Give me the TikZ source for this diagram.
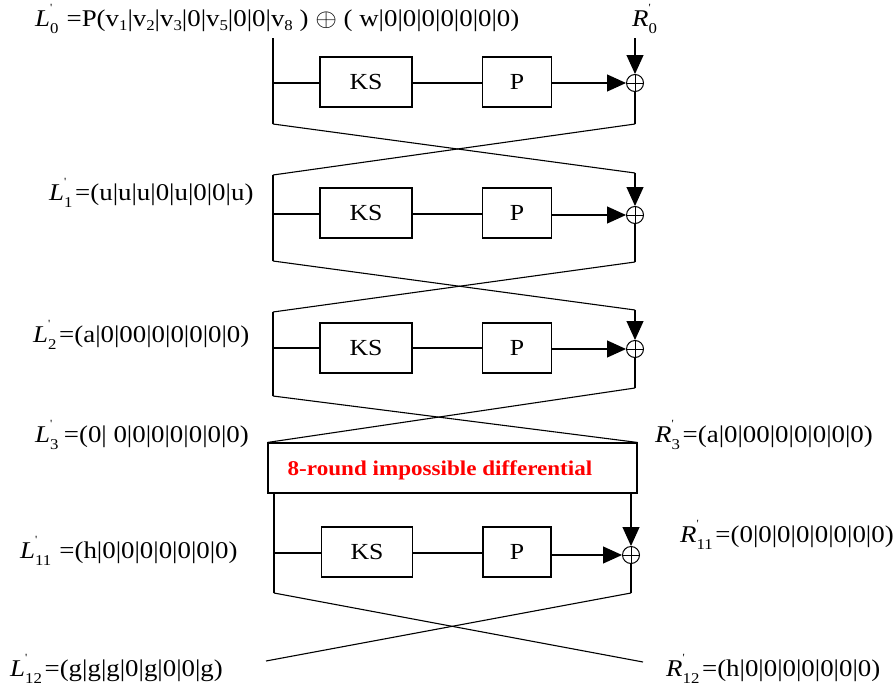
\documentclass[tikz,border=0pt]{standalone}
\usepackage{fontspec}
\setmainfont{Liberation Serif}
\usetikzlibrary{arrows.meta}
\newcommand{\Lb}[3]{\textit{#1}\rlap{\raisebox{0.6em}{\fontsize{11}{11}\selectfont\textquotesingle}}\raisebox{-0.3em}{\fontsize{15}{15}\selectfont #2}\hspace{#3}}
\newcommand{\vs}[1]{v\raisebox{-0.2em}{\fontsize{15}{15}\selectfont #1}}
\newcommand{\sx}[1]{\scalebox{1.12}[1]{#1}}
\begin{document}
\begin{tikzpicture}[x=1pt,y=-1pt,
  line/.style={line width=1.1pt},
  arr/.style={line width=1.1pt,-{Triangle[length=19pt,width=17pt]}},
  blk/.style={draw,line width=1.1pt,minimum width=92pt,minimum height=50pt,inner sep=0pt,font=\fontsize{23}{26}\selectfont},
  pblk/.style={blk,minimum width=69pt},
  xo/.style={draw,circle,line width=1pt,minimum size=17pt,inner sep=0pt,path picture={\draw[line width=1pt] (path picture bounding box.north) -- (path picture bounding box.south) (path picture bounding box.west) -- (path picture bounding box.east);}},
  lab/.style={anchor=base west,inner sep=0pt,font=\fontsize{24}{28}\selectfont}]
\useasboundingbox (0,0) rectangle (894,688);
% round 0
\coordinate (lt0) at (273,38); \coordinate (lb0) at (273,124); \coordinate (lm0) at (273,83);
\coordinate (rt0) at (635,38); \coordinate (rb0) at (635,124);
\node[blk] (ks0) at (366,82) {\sx{KS}};
\node[pblk] (p0) at (517,82) {\sx{P}};
\node[xo] (x0) at (635,83) {};
\draw[line] (lt0) -- (lb0);
\draw[line] (lm0) -- (lm0 -| ks0.west);
\draw[line] (ks0.east |- lm0) -- (p0.west |- lm0);
\draw[arr] (p0.east |- x0) -- (x0.west);
\draw[arr] (rt0) -- (x0.north);
\draw[line] (x0.south) -- (rb0);
% round 1
\coordinate (lt1) at (273,175); \coordinate (lb1) at (273,261); \coordinate (lm1) at (273,214);
\coordinate (rt1) at (635,173); \coordinate (rb1) at (635,262);
\node[blk] (ks1) at (366,213) {\sx{KS}};
\node[pblk] (p1) at (517,213) {\sx{P}};
\node[xo] (x1) at (635,215) {};
\draw[line] (lb0) -- (rt1);
\draw[line] (rb0) -- (lt1);
\draw[line] (lt1) -- (lb1);
\draw[line] (lm1) -- (lm1 -| ks1.west);
\draw[line] (ks1.east |- lm1) -- (p1.west |- lm1);
\draw[arr] (p1.east |- x1) -- (x1.west);
\draw[arr] (rt1) -- (x1.north);
\draw[line] (x1.south) -- (rb1);
% round 2
\coordinate (lt2) at (273,312); \coordinate (lb2) at (273,396); \coordinate (lm2) at (273,348);
\coordinate (rt2) at (635,310); \coordinate (rb2) at (635,388);
\node[blk] (ks2) at (366,348) {\sx{KS}};
\node[pblk] (p2) at (517,348) {\sx{P}};
\node[xo] (x2) at (635,349) {};
\draw[line] (lb1) -- (rt2);
\draw[line] (rb1) -- (lt2);
\draw[line] (lt2) -- (lb2);
\draw[line] (lm2) -- (lm2 -| ks2.west);
\draw[line] (ks2.east |- lm2) -- (p2.west |- lm2);
\draw[arr] (p2.east |- x2) -- (x2.west);
\draw[arr] (rt2) -- (x2.north);
\draw[line] (x2.south) -- (rb2);
% impossible differential box
\node[draw,line width=1.1pt,minimum width=369pt,minimum height=50pt,inner sep=0pt] (imp) at (452.5,468) {};
\node[font=\bfseries\fontsize{21}{24}\selectfont,text=red] (imptxt) at (440,470) {\scalebox{1.1}[1]{8-round impossible differential}};
\draw[line] (lb2) -- (imp.north east);
\draw[line] (rb2) -- (imp.north west);
% round 11
\coordinate (lt3) at (274,493); \coordinate (lb3) at (274,593); \coordinate (lm3) at (274,553);
\coordinate (rt3) at (631,493); \coordinate (rb3) at (631,593);
\node[blk,minimum width=91pt] (ks3) at (367,552) {\sx{KS}};
\node[pblk,minimum width=68pt] (p3) at (517,552) {\sx{P}};
\node[xo] (x3) at (631,555) {};
\draw[line] (lt3) -- (lb3);
\draw[line] (lm3) -- (lm3 -| ks3.west);
\draw[line] (ks3.east |- lm3) -- (p3.west |- lm3);
\draw[arr] (p3.east |- x3) -- (x3.west);
\draw[arr] (rt3) -- (x3.north);
\draw[line] (x3.south) -- (rb3);
\coordinate (e1) at (643,662); \coordinate (e2) at (266,661);
\draw[line] (lb3) -- (e1);
\draw[line] (rb3) -- (e2);
% labels
\node[lab] (tL0) at (35,26) {\sx{\Lb{L}{0}{0.3em}=P(\vs1|\vs2|\vs3|0|\vs5|0|0|\vs8 ) $\oplus$ ( w|0|0|0|0|0|0|0)}};
\node[lab] (tR0) at (632,26) {\sx{\Lb{R}{0}{0pt}}};
\node[lab] (tL1) at (49,200) {\sx{\Lb{L}{1}{0.1em}=(u|u|u|0|u|0|0|u)}};
\node[lab] (tL2) at (33,342) {\sx{\Lb{L}{2}{0.1em}=(a|0|00|0|0|0|0|0)}};
\node[lab] (tL3) at (35,442) {\sx{\Lb{L}{3}{0.2em}=(0| 0|0|0|0|0|0|0)}};
\node[lab] (tR3) at (655,442) {\sx{\Lb{R}{3}{0.1em}=(a|0|00|0|0|0|0|0)}};
\node[lab] (tR11) at (680,542) {\sx{\Lb{R}{11}{0.1em}=(0|0|0|0|0|0|0|0)}};
\node[lab] (tL11) at (20,558) {\sx{\Lb{L}{11}{0.3em}=(h|0|0|0|0|0|0|0)}};
\node[lab] (tL12) at (10,676) {\sx{\Lb{L}{12}{0.1em}=(g|g|g|0|g|0|0|g)}};
\node[lab] (tR12) at (666,676) {\sx{\Lb{R}{12}{0.1em}=(h|0|0|0|0|0|0|0)}};
\end{tikzpicture}
\end{document}
